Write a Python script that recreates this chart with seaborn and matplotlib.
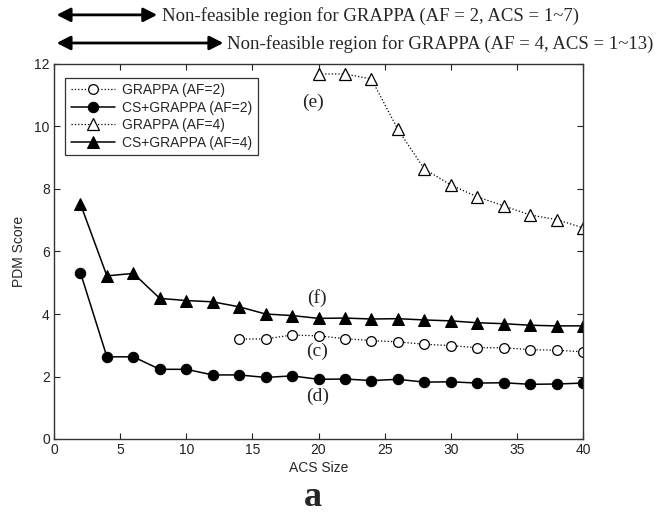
import numpy as np
import pandas as pd
import matplotlib
matplotlib.use('Agg')
import matplotlib.pyplot as plt
import seaborn as sns

# values
acs_all = [2, 4, 6, 8, 10, 12, 14, 16, 18, 20, 22, 24, 26, 28, 30, 32, 34, 36, 38, 40]
cs_af2 = [5.32, 2.63, 2.63, 2.23, 2.23, 2.05, 2.05, 1.97, 2.02, 1.91, 1.92, 1.87, 1.91, 1.82,
          1.83, 1.79, 1.80, 1.75, 1.76, 1.79]
cs_af4 = [7.52, 5.22, 5.30, 4.50, 4.43, 4.39, 4.23, 4.00, 3.95, 3.86, 3.87, 3.84, 3.85, 3.81,
          3.78, 3.72, 3.69, 3.64, 3.62, 3.62]
acs_g2 = [14, 16, 18, 20, 22, 24, 26, 28, 30, 32, 34, 36, 38, 40]
grappa_af2 = [3.20, 3.20, 3.33, 3.30, 3.21, 3.15, 3.11, 3.03, 2.99, 2.92, 2.92, 2.86, 2.84, 2.79]
acs_g4 = [20, 22, 24, 26, 28, 30, 32, 34, 36, 38, 40]
grappa_af4 = [11.68, 11.68, 11.52, 9.91, 8.64, 8.13, 7.75, 7.46, 7.17, 7.02, 6.76]

labels = ['GRAPPA (AF=2)', 'CS+GRAPPA (AF=2)', 'GRAPPA (AF=4)', 'CS+GRAPPA (AF=4)']
curve_tags = ['(e)', '(f)', '(c)', '(d)']
tag_pos = [(19.6, 10.78), (19.9, 4.51), (19.9, 2.79), (19.9, 1.38)]

sns.set_style('ticks')
plt.rcParams['font.family'] = ['Liberation Sans', 'DejaVu Sans']
plt.rcParams['xtick.direction'] = 'in'
plt.rcParams['ytick.direction'] = 'in'

fig = plt.figure(figsize=(6.57, 5.25), dpi=100)
ax = fig.add_axes([54 / 657, 1 - 439 / 525, 529 / 657, 375 / 525])

sns.lineplot(x=acs_g2, y=grappa_af2, ax=ax, color='k', lw=0.9, linestyle=':',
             marker='o', markersize=7, markerfacecolor='white', markeredgecolor='k',
             markeredgewidth=0.9, label=labels[0])
sns.lineplot(x=acs_all, y=cs_af2, ax=ax, color='k', lw=1.1, linestyle='-',
             marker='o', markersize=7.5, markerfacecolor='k', markeredgecolor='k', label=labels[1])
sns.lineplot(x=acs_g4, y=grappa_af4, ax=ax, color='k', lw=0.9, linestyle=':',
             marker='^', markersize=8, markerfacecolor='white', markeredgecolor='k',
             markeredgewidth=0.9, label=labels[2])
sns.lineplot(x=acs_all, y=cs_af4, ax=ax, color='k', lw=1.1, linestyle='-',
             marker='^', markersize=8.5, markerfacecolor='k', markeredgecolor='k', label=labels[3])

ax.set_xlim(0, 40)
ax.set_ylim(0, 12)
ax.set_xticks(range(0, 41, 5))
ax.set_yticks(range(0, 13, 2))
ax.tick_params(top=True, right=True, length=4, width=0.8, labelsize=10, pad=3, colors='#222222')
for s in ax.spines.values():
    s.set_visible(True)
    s.set_linewidth(1.0)
    s.set_color('#333333')
ax.set_xlabel('ACS Size', fontsize=10, labelpad=3)
ax.set_ylabel('PDM Score', fontsize=10, labelpad=6)

leg = ax.legend(loc='upper left', bbox_to_anchor=(0.008, 0.982), fontsize=10,
                handlelength=3.2, handletextpad=0.5, labelspacing=0.25,
                borderpad=0.4, fancybox=False, framealpha=1, edgecolor='#333333')
leg.get_frame().set_linewidth(0.9)

for tag, (tx, ty) in zip(curve_tags, tag_pos):
    ax.text(tx, ty, tag, family='Liberation Serif', fontsize=14, ha='center', va='center')

# non-feasible region arrows above the axes
trans = ax.get_xaxis_transform()
arrow_style = dict(arrowstyle='<|-|>,head_length=0.55,head_width=0.28', color='k', lw=2.0,
                   mutation_scale=15, shrinkA=0, shrinkB=0)
ax.annotate('', xy=(0.2, 1.131), xytext=(7.8, 1.131), xycoords=trans, textcoords=trans,
            arrowprops=arrow_style, annotation_clip=False)
ax.annotate('', xy=(0.2, 1.056), xytext=(12.8, 1.056), xycoords=trans, textcoords=trans,
            arrowprops=arrow_style, annotation_clip=False)
fig.text(162 / 657, 1 - 16 / 525, 'Non-feasible region for GRAPPA (AF = 2, ACS = 1~7)',
         family='Liberation Serif', fontsize=13.5, ha='left', va='center')
fig.text(227 / 657, 1 - 44 / 525, 'Non-feasible region for GRAPPA (AF = 4, ACS = 1~13)',
         family='Liberation Serif', fontsize=13.5, ha='left', va='center')

fig.text(313 / 657, 1 - 498 / 525, 'a', family='Liberation Serif', fontsize=26,
         fontweight='bold', ha='center', va='center')

fig.savefig('out.png', dpi=100)
